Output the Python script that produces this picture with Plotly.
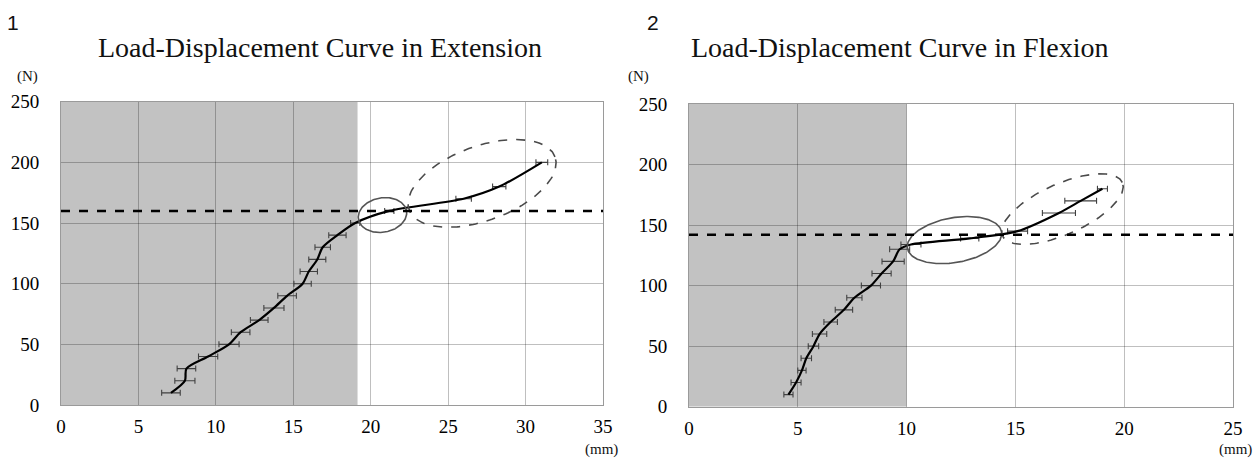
import numpy as np
import plotly.graph_objects as go

W, H = 1254, 463

# ---------------- data ----------------
ext_load = [10, 20, 30, 40, 50, 60, 70, 80, 90, 100, 110, 120, 130, 140, 150, 160, 170, 180, 200]
ext_disp = [7.1, 8.0, 8.1, 9.5, 10.85, 11.6, 12.8, 13.75, 14.6, 15.6, 16.0, 16.55, 16.9, 17.85, 19.0, 21.2, 26.0, 28.3, 31.05]
ext_err = [0.6, 0.65, 0.6, 0.62, 0.65, 0.6, 0.57, 0.65, 0.6, 0.56, 0.56, 0.55, 0.5, 0.56, 0.3, 0.3, 0.5, 0.43, 0.38]

flex_load = [10, 20, 30, 40, 50, 60, 70, 80, 90, 100, 110, 120, 130, 134, 139, 145, 160, 170, 180]
flex_disp = [4.57, 4.92, 5.19, 5.39, 5.72, 6.0, 6.51, 7.12, 7.6, 8.36, 8.85, 9.38, 9.68, 10.2, 12.9, 15.1, 17.0, 18.0, 19.0]
flex_err = [0.21, 0.23, 0.19, 0.24, 0.24, 0.33, 0.31, 0.4, 0.35, 0.44, 0.44, 0.51, 0.46, 0.46, 0.42, 0.46, 0.76, 0.73, 0.23]

ext_threshold = 160
flex_threshold = 142
ext_grey_end = 19.15
flex_grey_end = 10

ext_xmax, flex_xmax, ymax = 35, 25, 250
x_ticks_ext = [0, 5, 10, 15, 20, 25, 30, 35]
x_ticks_flex = [0, 5, 10, 15, 20, 25]
y_ticks = [0, 50, 100, 150, 200, 250]

titles = ["Load-Displacement Curve in Extension", "Load-Displacement Curve in Flexion"]
panel_labels = ["1", "2"]

# ellipse highlights: (cx, cy) in data units, semi-axes in px, tilt in degrees, dashed?
ext_ellipses = [((20.76, 156.6), 24.4, 17.2, 10, False), ((27.19, 182.7), 77.6, 37.2, 20, True)]
flex_ellipses = [((12.2, 137.6), 47.8, 22.4, 10, False), ((17.16, 163.2), 65.6, 25.3, 24, True)]


def px(xr):
    return xr / W


def py(yr):
    return 1 - yr / H


# ---------------- layout geometry (reference pixels) ----------------
dom_x1 = [px(61), px(603)]
dom_y1 = [py(405), py(101.7)]
dom_x2 = [px(689), px(1233)]
dom_y2 = [py(406.7), py(104)]

SERIF = "Liberation Serif, Times New Roman, serif"
SANS = "Liberation Sans, Arial, sans-serif"

fig = go.Figure()


def add_curve(xs, ys, errs, xa, ya):
    fig.add_trace(go.Scatter(
        x=xs, y=ys, mode="lines", xaxis=xa, yaxis=ya,
        line=dict(color="black", width=2.2, shape="spline", smoothing=0.8),
        error_x=dict(type="data", array=errs, visible=True, color="#404040", thickness=1.1, width=3),
        showlegend=False, hoverinfo="skip"))


def add_ellipses(ells, xa, ya, dx_dom, dy_dom, xspan):
    ppx = (dx_dom[1] - dx_dom[0]) * W / xspan
    ppy = (dy_dom[1] - dy_dom[0]) * H / ymax
    t = np.linspace(0, 2 * np.pi, 200)
    for (cx, cy), a, b, ang, dashed in ells:
        th = np.radians(ang)
        ex = a * np.cos(t) * np.cos(th) - b * np.sin(t) * np.sin(th)
        ey = a * np.cos(t) * np.sin(th) + b * np.sin(t) * np.cos(th)
        fig.add_trace(go.Scatter(
            x=cx + ex / ppx, y=cy + ey / ppy, mode="lines", xaxis=xa, yaxis=ya,
            line=dict(color="#4a4a4a" if dashed else "#555555", width=1.6,
                      dash="dash" if dashed else "solid"),
            showlegend=False, hoverinfo="skip"))


add_curve(ext_disp, ext_load, ext_err, "x", "y")
add_curve(flex_disp, flex_load, flex_err, "x2", "y2")
add_ellipses(ext_ellipses, "x", "y", dom_x1, dom_y1, ext_xmax)
add_ellipses(flex_ellipses, "x2", "y2", dom_x2, dom_y2, flex_xmax)

axis_common = dict(
    showgrid=True, gridcolor="rgba(0,0,0,0.25)", gridwidth=1,
    showline=True, linecolor="#9a9a9a", linewidth=1, mirror=True,
    zeroline=False, ticks="", fixedrange=True, automargin=False,
    tickfont=dict(family=SERIF, size=19, color="#000000"),
)

fig.update_layout(
    width=W, height=H, margin=dict(l=0, r=0, t=0, b=0, autoexpand=False),
    paper_bgcolor="white", plot_bgcolor="white",
    xaxis=dict(domain=dom_x1, range=[0, ext_xmax], tickvals=x_ticks_ext, anchor="y",
               ticklabelstandoff=4, **axis_common),
    yaxis=dict(domain=dom_y1, range=[0, ymax], tickvals=y_ticks, anchor="x",
               ticklabelstandoff=17, **axis_common),
    xaxis2=dict(domain=dom_x2, range=[0, flex_xmax], tickvals=x_ticks_flex, anchor="y2",
                ticklabelstandoff=4, **axis_common),
    yaxis2=dict(domain=dom_y2, range=[0, ymax], tickvals=y_ticks, anchor="x2",
                ticklabelstandoff=17, **axis_common),
)

shapes = [
    dict(type="rect", xref="x", yref="y", x0=0, x1=ext_grey_end, y0=0, y1=ymax,
         fillcolor="#c2c2c2", line=dict(width=0), layer="below"),
    dict(type="rect", xref="x2", yref="y2", x0=0, x1=flex_grey_end, y0=0, y1=ymax,
         fillcolor="#c2c2c2", line=dict(width=0), layer="below"),
    dict(type="line", xref="x", yref="y", x0=0, x1=ext_xmax, y0=ext_threshold, y1=ext_threshold,
         line=dict(color="black", width=2.5, dash="dash"), layer="above"),
    dict(type="line", xref="x2", yref="y2", x0=0, x1=flex_xmax, y0=flex_threshold, y1=flex_threshold,
         line=dict(color="black", width=2.5, dash="dash"), layer="above"),
]
fig.update_layout(shapes=shapes)

ann = []
for i, (cx, lx, nx, mmx) in enumerate([(320, 13, 27, 601), (900, 653, 638, 1235)]):
    ann.append(dict(text=panel_labels[i], x=px(lx), y=py(22), xref="paper", yref="paper",
                    showarrow=False, xanchor="center", yanchor="middle",
                    font=dict(family=SANS, size=21, color="#111111")))
    ann.append(dict(text=titles[i], x=px(cx), y=py(48), xref="paper", yref="paper",
                    showarrow=False, xanchor="center", yanchor="middle",
                    font=dict(family=SERIF, size=28, color="#111111")))
    ann.append(dict(text="(N)", x=px(nx), y=py(77), xref="paper", yref="paper",
                    showarrow=False, xanchor="center", yanchor="middle",
                    font=dict(family=SERIF, size=15, color="#111111")))
    ann.append(dict(text="(mm)", x=px(mmx), y=py(449), xref="paper", yref="paper",
                    showarrow=False, xanchor="center", yanchor="middle",
                    font=dict(family=SERIF, size=15, color="#111111")))
fig.update_layout(annotations=ann)

# remove the default 8px page margin so the figure sits at the window origin
fig.write_html("out.html", config={"displayModeBar": False},
               post_script="document.body.style.margin='0';document.body.style.overflow='hidden';")
